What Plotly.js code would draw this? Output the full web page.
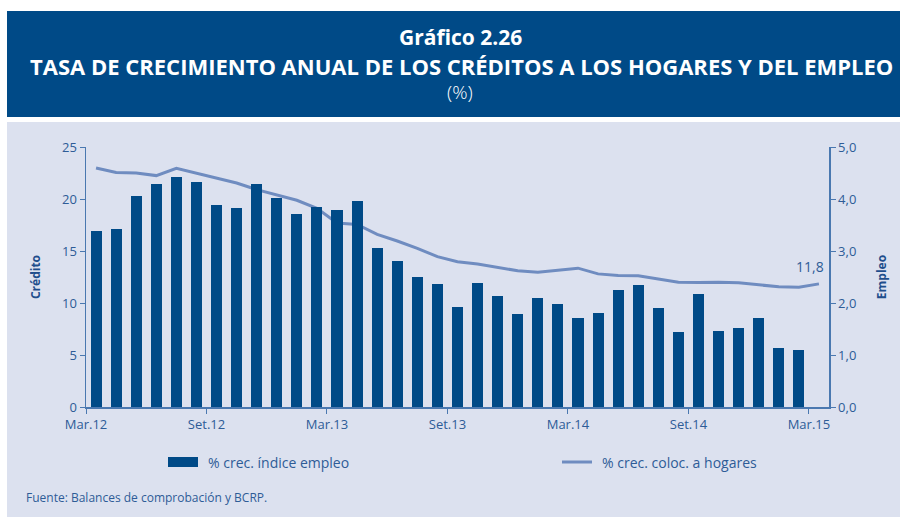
<!DOCTYPE html>
<html>
<head>
<meta charset="utf-8">
<script src="https://cdn.plot.ly/plotly-3.0.1.min.js"></script>
<style>html,body{margin:0;padding:0;background:#fff;}#chart{width:900px;height:519px;}</style>
</head>
<body>
<div id="chart"></div>
<script>
// Month index (0 = Mar.12)
const months = Array.from({length: 37}, (_, i) => i);
// % crec. índice empleo (right axis, Mar.12 .. Feb.15)
const empleo = [3.38, 3.42, 4.06, 4.29, 4.42, 4.32, 3.89, 3.82, 4.29, 4.01, 3.72, 3.84,
  3.79, 3.96, 3.05, 2.81, 2.50, 2.37, 1.92, 2.39, 2.13, 1.78, 2.10, 1.99,
  1.71, 1.81, 2.25, 2.35, 1.91, 1.44, 2.18, 1.47, 1.52, 1.72, 1.14, 1.09];
// % crec. coloc. a hogares (left axis, Mar.12 .. Mar.15)
const credito = [22.98, 22.54, 22.5, 22.25, 22.95, 22.47, 22.02, 21.54, 20.9, 20.39, 19.88, 19.1,
  17.7, 17.56, 16.6, 15.96, 15.26, 14.46, 13.97, 13.75, 13.4, 13.1, 12.95, 13.17,
  13.35, 12.8, 12.64, 12.61, 12.32, 12.0, 11.97, 12.0, 11.94, 11.72, 11.56, 11.52, 11.84];
const tickPos = [-0.5, 5.5, 11.5, 17.5, 23.5, 29.5, 35.5];
const tickLabels = ["Mar.12", "Set.12", "Mar.13", "Set.13", "Mar.14", "Set.14", "Mar.15"];

const navy = "#004A87";
const lineCol = "#6F8CC0";
const txt = "#2E5C97";
const axisCol = "#4A78B0";

const traces = [
  {type: "bar", x: months.slice(0, empleo.length), y: empleo, yaxis: "y2",
   name: "% crec. índice empleo", width: 0.55, marker: {color: navy, line: {width: 0}}},
  {type: "scatter", mode: "lines", x: months, y: credito, yaxis: "y",
   name: "% crec. coloc. a hogares", line: {color: lineCol, width: 3}}
];

const W = 743, H = 260, L = 86, T = 147;
const px = v => (v - L) / W;
const py = v => (T + H - v) / H;

const layout = {
  width: 900, height: 519,
  margin: {l: 86, r: 71, t: 147, b: 112},
  paper_bgcolor: "#ffffff",
  plot_bgcolor: "rgba(0,0,0,0)",
  font: {family: "Open Sans, sans-serif", color: txt, size: 13},
  separators: ",.",
  showlegend: false,
  bargap: 0,
  xaxis: {range: [-0.5, 36.5], tickvals: tickPos, ticktext: tickLabels,
    showgrid: false, zeroline: false, showline: true, linecolor: axisCol, linewidth: 1.5,
    ticks: "outside", ticklen: 5, tickcolor: axisCol, tickfont: {size: 13, color: txt}},
  yaxis: {range: [0, 25], tickvals: [0, 5, 10, 15, 20, 25], showgrid: false, zeroline: false,
    showline: true, linecolor: axisCol, linewidth: 1.5, ticks: "outside", ticklen: 5, tickcolor: axisCol,
    tickfont: {size: 13, color: txt},
    title: {text: "<b>Crédito</b>", font: {size: 12, color: "#1F4E8C"}, standoff: 19}},
  yaxis2: {range: [0, 5], overlaying: "y", side: "right", tickvals: [0, 1, 2, 3, 4, 5],
    tickformat: ".1f", showgrid: false, zeroline: false, showline: true, linecolor: axisCol, linewidth: 1.5,
    ticks: "outside", ticklen: 5, tickcolor: axisCol, tickfont: {size: 13, color: txt},
    title: {text: "<b>Empleo</b>", font: {size: 12, color: "#1F4E8C"}, standoff: 22}},
  shapes: [
    {type: "rect", xref: "paper", yref: "paper", x0: px(7), x1: px(900), y0: py(117), y1: py(11),
     fillcolor: navy, line: {width: 0}, layer: "below"},
    {type: "rect", xref: "paper", yref: "paper", x0: px(7), x1: px(900), y0: py(517), y1: py(122),
     fillcolor: "#DCE1EF", line: {width: 0}, layer: "below"},
    {type: "rect", xref: "paper", yref: "paper", x0: px(168), x1: px(198), y0: py(467), y1: py(457),
     fillcolor: navy, line: {width: 0}},
    {type: "line", xref: "paper", yref: "paper", x0: px(562), x1: px(592), y0: py(462), y1: py(462),
     line: {color: lineCol, width: 3}}
  ],
  annotations: [
    {xref: "paper", yref: "paper", x: px(460), y: py(37), text: "<b>Gráfico 2.26</b>", showarrow: false,
     font: {size: 21, color: "#ffffff"}, xanchor: "center", yanchor: "middle"},
    {xref: "paper", yref: "paper", x: px(461), y: py(66), text: "<b>TASA DE CRECIMIENTO ANUAL DE LOS CRÉDITOS A LOS HOGARES Y DEL EMPLEO</b>",
     showarrow: false, font: {size: 22, color: "#ffffff"}, xanchor: "center", yanchor: "middle"},
    {xref: "paper", yref: "paper", x: px(460), y: py(92), text: "(%)", showarrow: false,
     font: {size: 19, color: "#ffffff", weight: 300}, xanchor: "center", yanchor: "middle"},
    {x: months[months.length - 1], y: credito[credito.length - 1], xref: "x", yref: "y",
     text: "11,8", showarrow: false, xanchor: "right", yanchor: "bottom", xshift: 7, yshift: 6,
     font: {size: 14, color: txt}},
    {xref: "paper", yref: "paper", x: px(206), y: py(462), text: "% crec. índice empleo", showarrow: false,
     xanchor: "left", yanchor: "middle", font: {size: 14, color: txt}},
    {xref: "paper", yref: "paper", x: px(600), y: py(462), text: "% crec. coloc. a hogares", showarrow: false,
     xanchor: "left", yanchor: "middle", font: {size: 14, color: txt}},
    {xref: "paper", yref: "paper", x: px(24), y: py(497), text: "Fuente: Balances de comprobación y BCRP.", showarrow: false,
     xanchor: "left", yanchor: "middle", font: {size: 12, color: txt}}
  ]
};

Plotly.newPlot("chart", traces, layout, {displayModeBar: false, staticPlot: true});
</script>
</body>
</html>
